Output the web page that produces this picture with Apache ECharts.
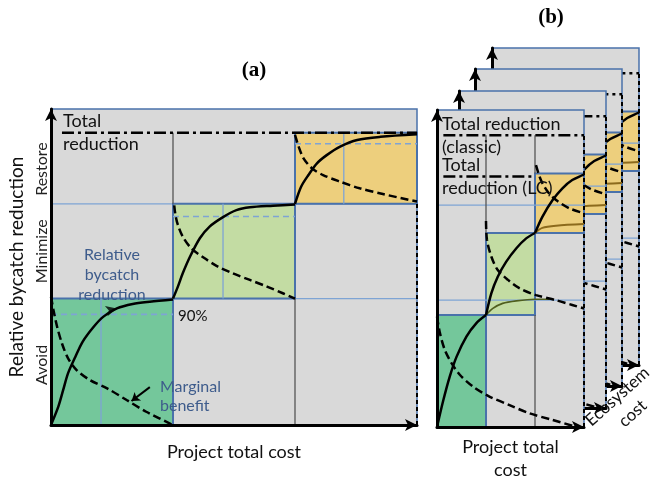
<!DOCTYPE html>
<html>
<head>
<meta charset="utf-8">
<script src="https://cdn.jsdelivr.net/npm/echarts@6/dist/echarts.min.js"></script>
<style>html,body{margin:0;background:#fff}#main{width:655px;height:481px}</style>
</head>
<body>
<div id="main"></div>
<script>
// ---------- data ----------
var bandNames = ['Avoid', 'Minimize', 'Restore'];
var bandLabelAt = [1.9, 5.5, 8.1];

// (a) classic: steps = [cost from, reduction from, cost to, reduction to]
var aSteps = [[0, 0, 1, 4], [1, 4, 2, 7], [2, 7, 3, 9.25]];
var aLevels = [4, 7];
var aNinety = [3.5, 6.6, 8.9];
var aSplit = [0.41, 1.41, 2.4];
var aTotal = 9.25;
var aRise = [
  [[0, 0], [0.06, 0.58], [0.1, 1.11], [0.14, 1.64], [0.2, 2.16], [0.26, 2.64], [0.35, 3.11],
   [0.43, 3.43], [0.54, 3.69], [0.67, 3.83], [0.81, 3.9], [1, 3.97]],
  [[1, 4], [1.04, 4.38], [1.08, 4.8], [1.14, 5.33], [1.22, 5.91], [1.3, 6.28], [1.41, 6.58],
   [1.52, 6.8], [1.63, 6.89], [1.82, 6.94], [2, 6.98]],
  [[2, 7], [2.05, 7.54], [2.11, 7.91], [2.18, 8.28], [2.26, 8.54], [2.37, 8.81], [2.51, 9.02],
   [2.7, 9.12], [3, 9.2]]
];
var aMarginal = [
  [[0, 4.06], [0.02, 3.64], [0.05, 3.11], [0.09, 2.58], [0.14, 2.11], [0.21, 1.74], [0.32, 1.42],
   [0.46, 1.16], [0.62, 0.79], [0.78, 0.42], [1, 0]],
  [[1.01, 6.95], [1.02, 6.65], [1.04, 6.33], [1.08, 5.96], [1.15, 5.59], [1.25, 5.3], [1.36, 5.03],
   [1.49, 4.8], [1.63, 4.59], [1.77, 4.38], [1.9, 4.17], [2, 4.0]],
  [[2, 9.18], [2.03, 8.81], [2.07, 8.44], [2.14, 8.12], [2.23, 7.91], [2.37, 7.7], [2.53, 7.49],
   [2.72, 7.31], [3, 7.07]]
];
var aArrowAt = [0.54, 3.69];
var aNote = [[0.81, 1.2], [0.66, 0.76]];

// (b) life-cycle panels
var bSteps = [[0, 0, 1, 3.53], [1, 3.53, 2, 6.12], [2, 6.12, 3, 8.0]];
var bLevels = [4, 7];
var bTotalClassic = 9.2;
var bTotalLC = 7.9;
var bRise = [
  [[0, 0], [0.13, 0.85], [0.26, 1.59], [0.4, 2.22], [0.6, 2.85], [0.8, 3.27], [1, 3.53]],
  [[1, 3.53], [1.11, 4.22], [1.24, 4.74], [1.41, 5.21], [1.62, 5.64], [1.82, 5.95], [2, 6.12]],
  [[2, 6.12], [2.15, 6.63], [2.36, 7.16], [2.56, 7.53], [2.76, 7.79], [3, 7.96]]
];
var bClassicRise = [
  [[1, 3.53], [1.14, 3.74], [1.34, 3.9], [1.62, 3.98], [2, 4.03], [2.3, 4.03]],
  [[2, 6.12], [2.15, 6.28], [2.43, 6.35], [3, 6.4]]
];
var bMarginal = [
  [[0, 3.48], [0.06, 2.96], [0.16, 2.43], [0.3, 2.01], [0.47, 1.64], [0.74, 1.27], [1.07, 0.96],
   [1.48, 0.69], [1.89, 0.43], [2.36, 0.22], [2.83, 0.01]],
  [[1, 6.5], [1.02, 5.9], [1.11, 5.37], [1.24, 4.95], [1.45, 4.64], [1.68, 4.38], [2.02, 4.16],
   [2.43, 4.0], [2.76, 3.85], [3, 3.74]],
  [[2.02, 8.26], [2.12, 7.79], [2.26, 7.42], [2.43, 7.16], [2.7, 6.9], [3, 6.74]]
];

// ---------- styles ----------
var FILL = ['#74c79b', '#c3dca3', '#edcf7d'];
var BG = '#d9d9d9';
var EDGE = '#4a72ab';
var THIN = '#7ea4d4';
var NOTE = '#3e5c8c';
var DASH = [8, 4];
var DASHDOT = [12, 4, 3, 4];
var FONT = 'Lato';

var myChart = echarts.init(document.getElementById('main'));

function boxSeries(g, z, rows, fills, lw) {
  return {
    type: 'custom', xAxisIndex: g, yAxisIndex: g, z: z, silent: true, clip: false,
    data: rows.map(function (r, i) { return r.concat([i]); }),
    renderItem: function (params, api) {
      var a = api.coord([api.value(0), api.value(1)]);
      var b = api.coord([api.value(2), api.value(3)]);
      return {
        type: 'rect',
        shape: {x: a[0], y: b[1], width: b[0] - a[0], height: a[1] - b[1]},
        style: {fill: fills[api.value(4)], stroke: EDGE, lineWidth: lw}
      };
    }
  };
}

function line(g, z, pts, color, width, type, smooth) {
  return {
    type: 'line', xAxisIndex: g, yAxisIndex: g, z: z, data: pts,
    symbol: 'none', smooth: smooth || false, silent: true, clip: false,
    lineStyle: {color: color, width: width, type: type || 'solid'}
  };
}

function axes(g, z, xw, yw) {
  var base = {
    gridIndex: g, type: 'value', z: z,
    axisLine: {show: true, lineStyle: {color: '#000', width: 3}, symbol: ['none', 'arrow'], symbolSize: [9, 12]},
    axisTick: {show: false}, axisLabel: {show: false}, splitLine: {show: false}
  };
  return [Object.assign({}, base, {min: 0, max: 3}, xw || {}), Object.assign({}, base, {min: 0, max: 10}, yw || {})];
}

var grids = [], xs = [], ys = [], series = [];

// ----- panel (a) -----
grids.push({left: 51, top: 109, width: 366, height: 316, outerBoundsMode: 'none'});
var ax = axes(0, 9, {
  name: 'Project total cost', nameLocation: 'middle', nameGap: 18,
  nameTextStyle: {fontFamily: FONT, fontSize: 18, color: '#111'}
}, {
  name: 'Relative bycatch reduction', nameLocation: 'middle', nameGap: 11, nameRotate: 90,
  nameTextStyle: {fontFamily: FONT, fontSize: 19, color: '#111'},
  axisLabel: {
    show: true, rotate: 90, margin: 1, customValues: bandLabelAt,
    fontFamily: FONT, fontSize: 16, color: '#222',
    formatter: function (v) { return bandNames[bandLabelAt.indexOf(v)]; }
  }
});
xs.push(ax[0]); ys.push(ax[1]);

series.push(boxSeries(0, 1, [[0, 0, 3, 10]], [BG], 1.5));
aLevels.forEach(function (lv) { series.push(line(0, 2, [[-0.1, lv], [3, lv]], THIN, 1.3)); });
series.push(boxSeries(0, 3, aSteps, FILL, 2));
aSteps.forEach(function (s, i) {
  series.push(line(0, 4, [[s[0], aNinety[i]], [s[2], aNinety[i]]], THIN, 1.6, [6, 4]));
  series.push(line(0, 4, [[aSplit[i], s[1]], [aSplit[i], s[3]]], THIN, 1.3));
});
series.push(line(0, 4, [[1, 7], [1, aTotal]], '#555', 1.3));
series.push(line(0, 4, [[2, 0], [2, 4]], '#555', 1.3));
series.push(line(0, 4, [[3, 0], [3, 7]], '#000', 2, [4, 3]));
series.push(line(0, 5, [[0.09, aTotal], [3, aTotal]], '#000', 2.5, DASHDOT));
aRise.forEach(function (c) { series.push(line(0, 6, c, '#000', 2.5, 'solid', 0.3)); });
aMarginal.forEach(function (c) { series.push(line(0, 6, c, '#000', 2.5, DASH, 0.3)); });
series.push({
  type: 'scatter', xAxisIndex: 0, yAxisIndex: 0, z: 7, silent: true,
  data: [aArrowAt], symbol: 'arrow', symbolSize: [8, 11], symbolRotate: -76,
  itemStyle: {color: '#000'}
});
series.push({
  type: 'line', xAxisIndex: 0, yAxisIndex: 0, z: 7, data: [], silent: true,
  markLine: {
    silent: true, symbol: ['none', 'arrow'], symbolSize: 8, label: {show: false},
    lineStyle: {color: '#000', width: 2, type: 'solid'},
    data: [[{coord: aNote[0]}, {coord: aNote[1]}]]
  }
});

// ----- panel (b): back to front -----
var bPos = [[492, 48], [475, 69], [459, 91], [437, 110]];
bPos.forEach(function (p, k) {
  var g = k + 1;
  var z = 10 + k * 10;
  var front = k === bPos.length - 1;
  grids.push({left: p[0], top: p[1], width: 147, height: 317, outerBoundsMode: 'none'});
  var bx = axes(g, z + 8, front ? {
    name: 'Project total\ncost', nameLocation: 'middle', nameGap: 9,
    nameTextStyle: {fontFamily: FONT, fontSize: 18, color: '#111', lineHeight: 23}
  } : null);
  xs.push(bx[0]); ys.push(bx[1]);

  series.push(boxSeries(g, z, [[0, 0, 3, 10]], [BG], 1.5));
  series.push(boxSeries(g, z + 1, bSteps, FILL, 2));
  bLevels.forEach(function (lv) { series.push(line(g, z + 2, [[0, lv], [3, lv]], THIN, 1.3)); });
  series.push(line(g, z + 2, [[1, 6.12], [1, bTotalClassic]], '#555', 1.3));
  series.push(line(g, z + 2, [[2, 8.0], [2, bTotalClassic]], '#555', 1.3));
  series.push(line(g, z + 2, [[2, 0], [2, 3.53]], '#555', 1.3));
  series.push(line(g, z + 2, [[3, 0], [3, bTotalClassic]], '#000', 2, [4, 3]));
  series.push(line(g, z + 3, [[0.13, bTotalClassic], [3, bTotalClassic]], '#000', 2.5, DASHDOT));
  series.push(line(g, z + 3, [[0.13, bTotalLC], [2, bTotalLC]], '#000', 2.5, DASHDOT));
  series.push(line(g, z + 3, bClassicRise[0], '#4f5e1e', 1.6, 'solid', 0.3));
  series.push(line(g, z + 3, bClassicRise[1], '#8c6a1c', 2, 'solid', 0.3));
  bRise.forEach(function (c) { series.push(line(g, z + 4, c, '#000', 2.5, 'solid', 0.3)); });
  bMarginal.forEach(function (c) { series.push(line(g, z + 4, c, '#000', 2.5, DASH, 0.3)); });
});

function txt(x, y, s, font, fill, align, extra) {
  return Object.assign({
    type: 'text', x: x, y: y, z: 100, silent: true,
    style: {text: s, font: font, fill: fill || '#111', align: align || 'left', verticalAlign: 'middle'}
  }, extra || {});
}

var graphics = [
  txt(254, 71, '(a)', 'bold 21px "Liberation Serif"', '#000', 'center'),
  txt(551, 18, '(b)', 'bold 21px "Liberation Serif"', '#000', 'center'),
  txt(63, 133, 'Total\nreduction', '18px Lato', '#111', 'left'),
  txt(112, 275, 'Relative\nbycatch\nreduction', '16px Lato', NOTE, 'center'),
  txt(178, 316, '90%', '15px Lato', '#111', 'left'),
  txt(160, 396, 'Marginal\nbenefit', '16px Lato', NOTE, 'left'),
  txt(442, 136, 'Total reduction\n(classic)', '18px Lato', '#111', 'left'),
  txt(442, 177, 'Total\nreduction (LC)', '18px Lato', '#111', 'left'),
  txt(625, 405, 'Ecosystem\ncost', '17px Lato', '#111', 'center', {rotation: 0.73})
];
graphics.forEach(function (gr) { gr.style.lineHeight = 23; });
graphics[3].style.lineHeight = 20;
graphics[5].style.lineHeight = 19;

myChart.setOption({
  animation: false,
  textStyle: {fontFamily: FONT},
  grid: grids,
  xAxis: xs,
  yAxis: ys,
  series: series,
  graphic: graphics
});
</script>
</body>
</html>
